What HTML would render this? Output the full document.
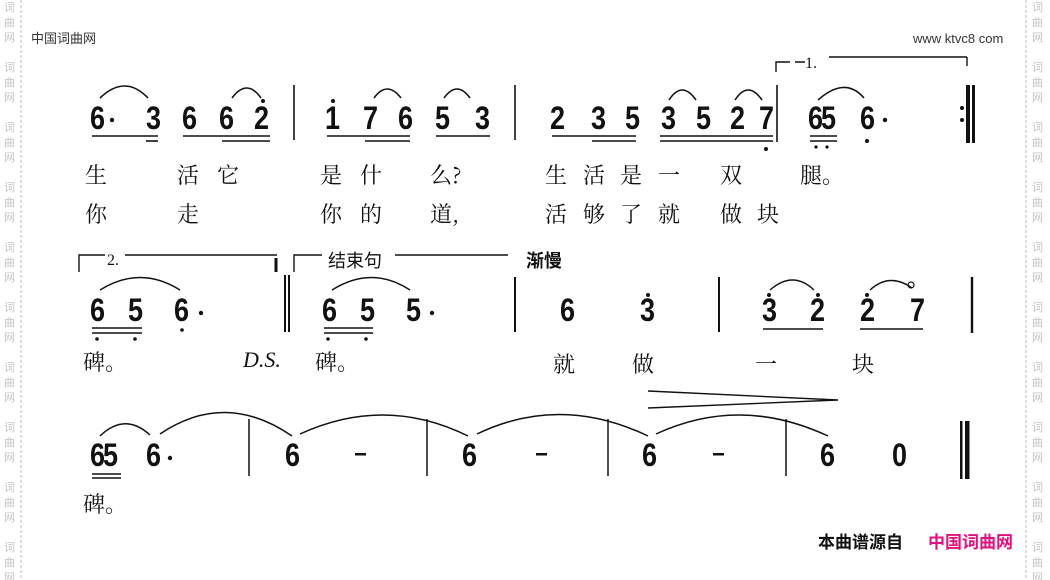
<!DOCTYPE html>
<html><head><meta charset="utf-8"><style>
html,body{margin:0;padding:0;background:#fff;width:1050px;height:580px;overflow:hidden}
svg{display:block}
.n{font-family:"Liberation Sans",sans-serif;font-weight:bold;font-size:27px;fill:#111}
.l{font-family:"Noto Serif CJK SC","Noto Sans CJK SC",serif;font-size:22px;fill:#111}
.w{font-family:"Noto Sans CJK SC",sans-serif;font-size:11px;fill:#c4c4c4}
</style></head><body>
<svg width="1050" height="580" viewBox="0 0 1050 580" xmlns="http://www.w3.org/2000/svg">
<g stroke="#bbb" stroke-dasharray="3,2" stroke-width="1"><line x1="21" y1="0" x2="21" y2="580"/><line x1="1026" y1="0" x2="1026" y2="580"/></g>
<g class="w">
<text x="4" y="11">词</text><text x="4" y="26">曲</text><text x="4" y="41">网</text>
<text x="4" y="71">词</text><text x="4" y="86">曲</text><text x="4" y="101">网</text>
<text x="4" y="131">词</text><text x="4" y="146">曲</text><text x="4" y="161">网</text>
<text x="4" y="191">词</text><text x="4" y="206">曲</text><text x="4" y="221">网</text>
<text x="4" y="251">词</text><text x="4" y="266">曲</text><text x="4" y="281">网</text>
<text x="4" y="311">词</text><text x="4" y="326">曲</text><text x="4" y="341">网</text>
<text x="4" y="371">词</text><text x="4" y="386">曲</text><text x="4" y="401">网</text>
<text x="4" y="431">词</text><text x="4" y="446">曲</text><text x="4" y="461">网</text>
<text x="4" y="491">词</text><text x="4" y="506">曲</text><text x="4" y="521">网</text>
<text x="4" y="551">词</text><text x="4" y="566">曲</text><text x="4" y="581">网</text>
<text x="1032" y="11">词</text><text x="1032" y="26">曲</text><text x="1032" y="41">网</text>
<text x="1032" y="71">词</text><text x="1032" y="86">曲</text><text x="1032" y="101">网</text>
<text x="1032" y="131">词</text><text x="1032" y="146">曲</text><text x="1032" y="161">网</text>
<text x="1032" y="191">词</text><text x="1032" y="206">曲</text><text x="1032" y="221">网</text>
<text x="1032" y="251">词</text><text x="1032" y="266">曲</text><text x="1032" y="281">网</text>
<text x="1032" y="311">词</text><text x="1032" y="326">曲</text><text x="1032" y="341">网</text>
<text x="1032" y="371">词</text><text x="1032" y="386">曲</text><text x="1032" y="401">网</text>
<text x="1032" y="431">词</text><text x="1032" y="446">曲</text><text x="1032" y="461">网</text>
<text x="1032" y="491">词</text><text x="1032" y="506">曲</text><text x="1032" y="521">网</text>
<text x="1032" y="551">词</text><text x="1032" y="566">曲</text><text x="1032" y="581">网</text>
</g>
<text x="31" y="43" font-family="Noto Sans CJK SC,sans-serif" font-size="13" fill="#333">中国词曲网</text>
<text x="913" y="43" font-family="Liberation Sans,sans-serif" font-size="13" fill="#333">www ktvc8 com</text>

<!-- Row 1 notes -->
<g class="n" transform="matrix(1 0 0 1.2 0 -25.8)">
<text x="90" y="129">6</text><text x="146" y="129">3</text><text x="182" y="129">6</text><text x="219" y="129">6</text><text x="254" y="129">2</text>
<text x="325" y="129">1</text><text x="363" y="129">7</text><text x="398" y="129">6</text><text x="435" y="129">5</text><text x="475" y="129">3</text>
<text x="550" y="129">2</text><text x="591" y="129">3</text><text x="625" y="129">5</text><text x="661" y="129">3</text><text x="696" y="129">5</text><text x="730" y="129">2</text><text x="759" y="129">7</text>
<text x="808" y="129" letter-spacing="-2">65</text><text x="860" y="129">6</text>
</g>
<g fill="#111">
<circle cx="112" cy="120" r="2.2"/><circle cx="263" cy="101" r="2"/><circle cx="333" cy="101" r="2"/>
<circle cx="766" cy="149" r="2"/><circle cx="816" cy="147" r="1.6"/><circle cx="827" cy="147" r="1.6"/><circle cx="867" cy="141" r="2"/><circle cx="885" cy="120" r="2.2"/>
<circle cx="962" cy="108" r="2"/><circle cx="962" cy="120" r="2"/>
</g>
<g stroke="#111" stroke-width="1.6" fill="none">
<line x1="92" y1="136" x2="158" y2="136"/><line x1="146" y1="141" x2="158" y2="141"/>
<line x1="183" y1="136" x2="270" y2="136"/><line x1="222" y1="141" x2="270" y2="141"/>
<line x1="327" y1="136" x2="410" y2="136"/><line x1="365" y1="141" x2="410" y2="141"/>
<line x1="436" y1="136" x2="490" y2="136"/>
<line x1="552" y1="136" x2="636" y2="136"/><line x1="592" y1="141" x2="636" y2="141"/>
<line x1="660" y1="136" x2="773" y2="136"/><line x1="660" y1="141" x2="773" y2="141"/>
<line x1="810" y1="136" x2="837" y2="136"/><line x1="810" y1="141" x2="837" y2="141"/>
<line x1="294" y1="85" x2="294" y2="140"/><line x1="515" y1="85" x2="515" y2="140"/><line x1="777" y1="85" x2="777" y2="142"/>
<path d="M100 98 Q125 74 148 98"/><path d="M232 98 Q247 78 261 98"/><path d="M374 98 Q387 80 401 98"/><path d="M444 98 Q457 80 470 98"/>
<path d="M669 100 Q682 80 696 100"/><path d="M735 100 Q748 80 762 100"/><path d="M818 100 Q845 76 864 98"/>
<path d="M776 72 L776 62 L790 62 M795 62 L805 62 M829 57 L967 57 M967 57 L967 66" stroke-width="1.4"/>
</g>
<text x="805" y="68" font-family="Liberation Serif,serif" font-size="16" fill="#111">1.</text>
<rect x="966" y="85" width="4" height="58" fill="#111"/><rect x="972" y="85" width="3" height="58" fill="#111"/>

<!-- Row 1 lyrics -->
<g class="l">
<text x="85" y="183">生</text><text x="177" y="183">活</text><text x="217" y="183">它</text><text x="320" y="183">是</text><text x="360" y="183">什</text><text x="430" y="183">么?</text>
<text x="545" y="183">生</text><text x="583" y="183">活</text><text x="620" y="183">是</text><text x="658" y="183">一</text><text x="720" y="183">双</text><text x="800" y="183">腿。</text>
<text x="85" y="222">你</text><text x="177" y="222">走</text><text x="320" y="222">你</text><text x="360" y="222">的</text><text x="430" y="222">道,</text>
<text x="545" y="222">活</text><text x="583" y="222">够</text><text x="620" y="222">了</text><text x="658" y="222">就</text><text x="720" y="222">做</text><text x="757" y="222">块</text>
</g>

<!-- Row 2 -->
<g stroke="#111" stroke-width="1.4" fill="none">
<path d="M79 272 L79 255 L105 255 M125 255 L277 255"/><line x1="276" y1="258" x2="276" y2="272" stroke-width="3"/>
<path d="M294 272 L294 255 L322 255 M395 255 L508 255"/>
<line x1="285" y1="275" x2="285" y2="332" stroke-width="2"/><line x1="289" y1="275" x2="289" y2="332" stroke-width="2"/>
<line x1="515" y1="277" x2="515" y2="332" stroke-width="2"/><line x1="719" y1="277" x2="719" y2="332" stroke-width="2"/><line x1="972" y1="277" x2="972" y2="333" stroke-width="2.4"/>
<line x1="92" y1="328" x2="142" y2="328"/><line x1="92" y1="333" x2="142" y2="333"/>
<line x1="324" y1="328" x2="373" y2="328"/><line x1="324" y1="333" x2="373" y2="333"/>
<line x1="763" y1="329" x2="823" y2="329"/><line x1="860" y1="329" x2="923" y2="329"/>
<path d="M100 290 Q140 265 180 290"/><path d="M332 290 Q372 265 410 290"/>
<path d="M770 290 Q793 270 814 290"/><path d="M870 290 Q890 272 912 288"/>
<path d="M648 391 L838 400 L648 408"/>
</g>
<circle cx="911" cy="285" r="3" fill="none" stroke="#111" stroke-width="1.2"/>
<text x="107" y="265" font-family="Liberation Serif,serif" font-size="16" fill="#111">2.</text>
<text x="328" y="267" font-family="Noto Sans CJK SC,sans-serif" font-size="18" fill="#111">结束句</text>
<text x="526" y="267" font-family="Noto Sans CJK SC,sans-serif" font-weight="bold" font-size="18" fill="#111">渐慢</text>
<g class="n" transform="matrix(1 0 0 1.2 0 -64.2)">
<text x="90" y="321">6</text><text x="128" y="321">5</text><text x="174" y="321">6</text>
<text x="322" y="321">6</text><text x="360" y="321">5</text><text x="406" y="321">5</text>
<text x="560" y="321">6</text><text x="640" y="321">3</text>
<text x="762" y="321">3</text><text x="810" y="321">2</text><text x="860" y="321">2</text><text x="910" y="321">7</text>
</g>
<g fill="#111">
<circle cx="201" cy="313" r="2.2"/><circle cx="432" cy="313" r="2.2"/>
<circle cx="97" cy="339" r="1.8"/><circle cx="135" cy="339" r="1.8"/><circle cx="182" cy="330" r="1.8"/>
<circle cx="328" cy="339" r="1.8"/><circle cx="366" cy="339" r="1.8"/>
<circle cx="648" cy="295" r="2"/><circle cx="769" cy="295" r="2"/><circle cx="818" cy="295" r="2"/><circle cx="867" cy="295" r="2"/>
</g>
<g class="l">
<text x="83" y="370">碑。</text><text x="315" y="370">碑。</text>
<text x="553" y="372">就</text><text x="632" y="372">做</text><text x="755" y="372">一</text><text x="852" y="372">块</text>
</g>
<text x="243" y="367" font-family="Liberation Serif,serif" font-style="italic" font-size="22" fill="#111">D.S.</text>

<!-- Row 3 -->
<g class="n" transform="matrix(1 0 0 1.2 0 -93.2)">
<text x="90" y="466" letter-spacing="-2">65</text><text x="146" y="466">6</text>
<text x="285" y="466">6</text><text x="462" y="466">6</text><text x="642" y="466">6</text><text x="820" y="466">6</text><text x="892" y="466">0</text>
</g>
<g fill="#111"><circle cx="170" cy="458" r="2.2"/>
<rect x="355" y="453" width="11" height="2.5"/><rect x="536" y="453" width="11" height="2.5"/><rect x="713" y="453" width="11" height="2.5"/>
<rect x="960" y="421" width="2.5" height="58"/><rect x="965" y="421" width="4.5" height="58"/></g>
<g stroke="#111" stroke-width="1.5" fill="none">
<line x1="92" y1="474" x2="121" y2="474"/><line x1="92" y1="478" x2="121" y2="478"/>
<line x1="249" y1="419" x2="249" y2="476"/><line x1="427" y1="419" x2="427" y2="476"/><line x1="608" y1="419" x2="608" y2="476"/><line x1="786" y1="419" x2="786" y2="476"/>
<path d="M100 436 Q125 412 150 435"/>
<path d="M160 434 Q225 390 292 436"/><path d="M300 434 Q385 395 468 436"/><path d="M477 434 Q560 394 648 436"/><path d="M656 434 Q740 395 828 436"/>
</g>
<text x="83" y="512" class="l">碑。</text>

<text x="818" y="548" font-family="Noto Sans CJK SC,sans-serif" font-weight="bold" font-size="17" fill="#111">本曲谱源自</text>
<text x="928" y="548" font-family="Noto Sans CJK SC,sans-serif" font-weight="bold" font-size="17" fill="#e0117f">中国词曲网</text>
</svg>
</body></html>
